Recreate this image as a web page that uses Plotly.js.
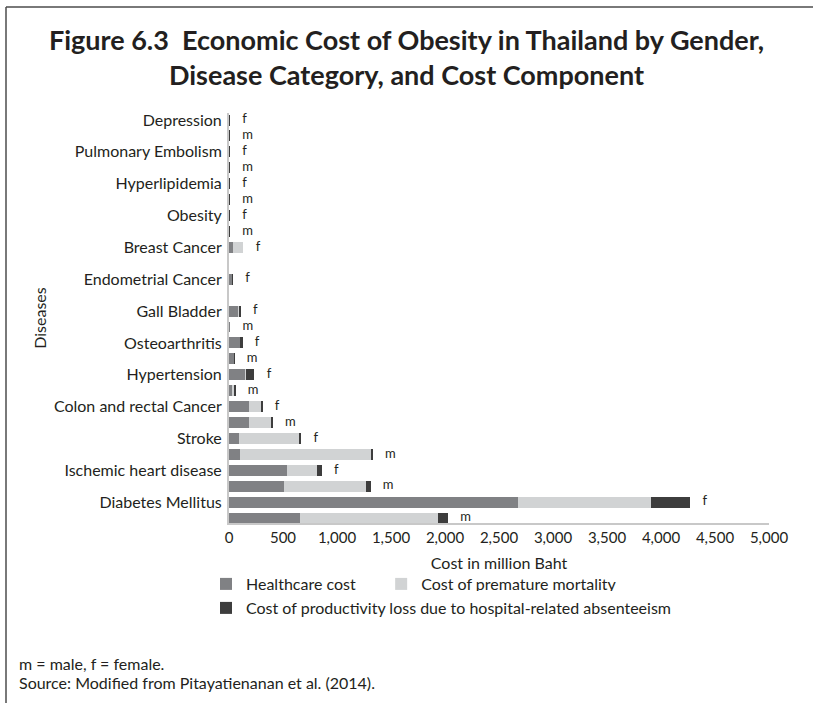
<!DOCTYPE html>
<html>
<head>
<meta charset="utf-8">
<script src="https://cdn.plot.ly/plotly-3.0.1.min.js"></script>
<style>html,body{margin:0;padding:0;background:#fff;}#chart{width:813px;height:703px;}</style>
</head>
<body>
<div id="chart"></div>
<script>
// ---- data (million Baht) ----
const categories = ['Depression', 'Pulmonary Embolism', 'Hyperlipidemia', 'Obesity', 'Breast Cancer',
  'Endometrial Cancer', 'Gall Bladder', 'Osteoarthritis', 'Hypertension', 'Colon and rectal Cancer',
  'Stroke', 'Ischemic heart disease', 'Diabetes Mellitus'];
// female
const healthcareF   = [4, 4, 4, 4, 37, 24, 85, 105, 145, 182, 93, 541, 2680];
const mortalityF    = [0, 0, 0, 0, 88, 4, 4, 0, 15, 117, 559, 274, 1230];
const productivityF = [5, 5, 5, 5, 9, 9, 20, 20, 75, 12, 18, 43, 360];
// male (null = not applicable)
const healthcareM   = [4, 4, 4, 4, null, null, 6, 43, 28, 182, 103, 513, 655];
const mortalityM    = [0, 0, 0, 0, null, null, 0, 0, 18, 210, 1214, 759, 1280];
const productivityM = [5, 5, 5, 5, null, null, 6, 8, 15, 12, 14, 39, 93];
const genderLabels = ['f', 'm'];
const seriesNames = ['Healthcare cost', 'Cost of premature mortality',
  'Cost of productivity loss due to hospital-related absenteeism'];
const xTicks = [0, 500, 1000, 1500, 2000, 2500, 3000, 3500, 4000, 4500, 5000];

// ---- build rows: f then m for each category ----
const rowPos = [], hc = [], pm = [], pl = [], lblX = [], lblText = [];
categories.forEach((c, i) => {
  [[healthcareF, mortalityF, productivityF], [healthcareM, mortalityM, productivityM]].forEach((g, k) => {
    rowPos.push(i * 2 + k);
    const a = g[0][i], b = g[1][i], d = g[2][i];
    hc.push(a); pm.push(b); pl.push(d);
    if (a === null) { lblX.push(null); lblText.push(''); }
    else { lblX.push(a + b + d); lblText.push(genderLabels[k]); }
  });
});

const colors = ['#808184', '#d1d3d4', '#3d3d3d'];
const font = 'Lato, "Open Sans", sans-serif';
const txt = '#231f20';
// trailing non-breaking spaces widen the first legend entry (spacing only)
const namePad = ['\u00a0\u00a0\u00a0\u00a0\u00a0', '', ''];

const traces = [hc, pm, pl].map((arr, j) => ({
  type: 'bar', orientation: 'h', x: arr, y: rowPos, name: seriesNames[j] + namePad[j],
  legend: j < 2 ? 'legend' : 'legend2',
  marker: {color: colors[j], line: {width: 0}}, hoverinfo: 'x+name'
}));
traces.push({
  type: 'scatter', mode: 'markers+text', x: lblX, y: rowPos, text: lblText,
  textposition: 'middle right', marker: {size: 18, opacity: 0},
  textfont: {family: font, size: 13, color: txt}, showlegend: false, hoverinfo: 'skip'
});

const py = v => (523 - v) / 410;   // helper for page-level decorations
const px = v => (v - 229) / 540;
const legendFont = {family: font, size: 16, color: txt};

const layout = {
  width: 813, height: 703,
  margin: {l: 229, r: 44, t: 113, b: 180},
  paper_bgcolor: '#ffffff', plot_bgcolor: '#ffffff',
  font: {family: font, color: txt, size: 15},
  barmode: 'stack', bargap: 0.31,
  title: {
    text: 'Figure 6.3\u00a0 Economic Cost of Obesity in Thailand by Gender,<br>Disease Category, and Cost Component',
    font: {family: font, size: 27, color: txt, weight: 'bold'},
    x: 0.5, xref: 'container', xanchor: 'center', y: 1 - 50 / 703, yref: 'container', yanchor: 'top'
  },
  xaxis: {
    range: [0, 5000], tickvals: xTicks, tickformat: ',d', ticks: '', showgrid: false, zeroline: false,
    showline: true, linecolor: '#c8c8c8', linewidth: 2,
    tickfont: {family: font, size: 15, color: txt},
    title: {text: 'Cost in million Baht', font: {family: font, size: 16, color: txt}, standoff: 13}
  },
  yaxis: {
    range: [25.31, -0.44], tickvals: categories.map((c, i) => i * 2), ticktext: categories,
    ticks: '', showgrid: false, zeroline: false, showline: true, linecolor: '#c8c8c8', linewidth: 2,
    tickfont: {family: font, size: 16, color: txt}, ticklabelstandoff: 2,
    title: {text: 'Diseases', font: {family: font, size: 16, color: txt}, standoff: 3}
  },
  legend: {
    orientation: 'h', x: px(206), xanchor: 'left', y: py(567), yanchor: 'top',
    font: legendFont, traceorder: 'normal', itemclick: false, itemdoubleclick: false
  },
  legend2: {
    orientation: 'h', x: px(206), xanchor: 'left', y: py(591), yanchor: 'top',
    font: legendFont, traceorder: 'normal', itemclick: false, itemdoubleclick: false
  },
  shapes: [
    {type: 'line', xref: 'paper', yref: 'paper', x0: px(6), x1: px(813), y0: py(7), y1: py(7), line: {color: '#4d4d4d', width: 1.5}},
    {type: 'line', xref: 'paper', yref: 'paper', x0: px(6), x1: px(6), y0: py(7), y1: py(703), line: {color: '#4d4d4d', width: 1.5}}
  ],
  annotations: [
    {xref: 'paper', yref: 'paper', x: px(17), y: py(663), xanchor: 'left', yanchor: 'middle', showarrow: false,
     text: 'm = male, f = female.', font: {family: font, size: 16, color: txt}},
    {xref: 'paper', yref: 'paper', x: px(17), y: py(682), xanchor: 'left', yanchor: 'middle', showarrow: false,
     text: 'Source: Modified from Pitayatienanan et al. (2014).', font: {family: font, size: 16, color: txt}}
  ]
};

Plotly.newPlot('chart', traces, layout, {displayModeBar: false, staticPlot: true});
</script>
</body>
</html>
